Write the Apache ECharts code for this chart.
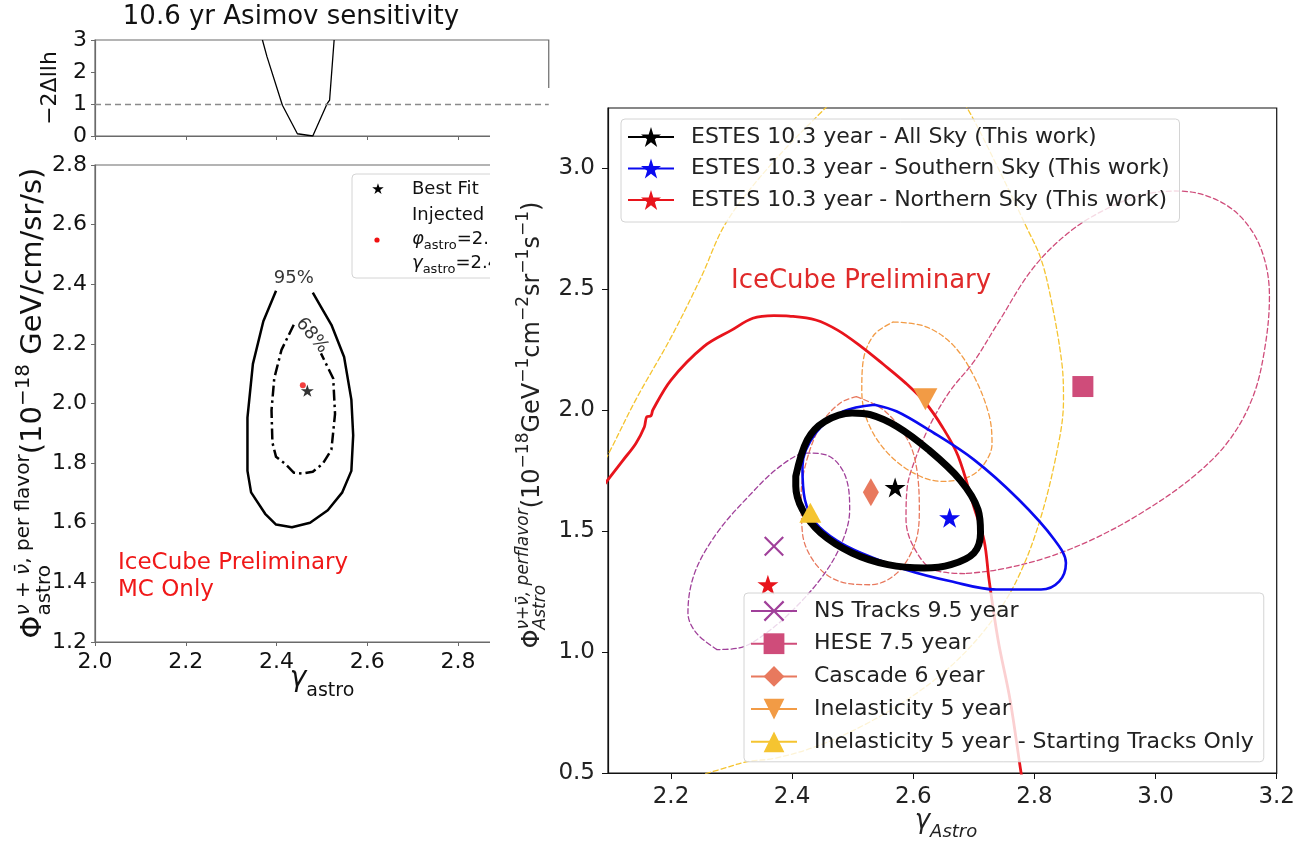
<!DOCTYPE html>
<html>
<head>
<meta charset="utf-8">
<script src="https://cdn.jsdelivr.net/npm/echarts@6/dist/echarts.min.js"></script>
<style>
  html, body { margin: 0; padding: 0; background: #fff; }
  #main { width: 1298px; height: 849px; }
</style>
</head>
<body>
<div id="main"></div>
<script>
// ---------- Left figure: 10.6 yr Asimov sensitivity ----------
const scanGamma = [2.369, 2.379, 2.413, 2.446, 2.480, 2.512, 2.517, 2.527];
const scanTs = [3.0, 2.48, 0.96, 0.07, 0.0, 1.02, 1.12, 3.0];
const tsLevel = 1;

const contour95 = [[2.399,2.378],[2.371,2.276],[2.348,2.133],[2.336,1.953],[2.336,1.774],[2.344,1.702],
  [2.375,1.630],[2.399,1.594],[2.434,1.585],[2.474,1.600],[2.513,1.642],[2.545,1.702],[2.565,1.774],
  [2.569,1.893],[2.565,2.013],[2.549,2.156],[2.521,2.264],[2.498,2.324],[2.480,2.372]];
const contour68 = [[2.438,2.264],[2.411,2.180],[2.395,2.084],[2.389,1.977],[2.391,1.869],[2.399,1.821],
  [2.419,1.798],[2.438,1.768],[2.458,1.765],[2.480,1.771],[2.502,1.798],[2.521,1.845],[2.529,1.965],
  [2.525,2.084],[2.498,2.168]];
const contourLabels = [
  { text: '95%', at: [2.438, 2.419], angle: 0 },
  { text: '68%', at: [2.478, 2.228], angle: -50 }
];
const asimovBestFit = [2.468, 2.043];
const asimovInjected = [2.458, 2.061];
const injectedPhi = '2.06';
const injectedGamma = '2.46';

// ---------- Right figure: measurements comparison ----------
const rightGammaTicks = [2.2, 2.4, 2.6, 2.8, 3.0, 3.2];
const rightPhiTicks = [0.5, 1.0, 1.5, 2.0, 2.5, 3.0];

const estesNames = [
  'ESTES 10.3 year - All Sky (This work)',
  'ESTES 10.3 year - Southern Sky (This work)',
  'ESTES 10.3 year - Northern Sky (This work)'
];
const refNames = [
  'NS Tracks 9.5 year',
  'HESE 7.5 year',
  'Cascade 6 year',
  'Inelasticity 5 year',
  'Inelasticity 5 year - Starting Tracks Only'
];

const allSkyBest = [2.57, 1.68];
const southBest = [2.66, 1.555];
const northBest = [2.36, 1.278];
const nsTracksBest = [2.37, 1.437];
const heseBest = [2.88, 2.097];
const cascadeBest = [2.53, 1.66];
const inelBest = [2.62, 2.044];
const startBest = [2.43, 1.575];

const allSkyContour = [[2.406,1.726],[2.425,1.877],[2.454,1.953],[2.499,1.988],[2.529,1.981],[2.573,1.932],
  [2.625,1.836],[2.677,1.712],[2.707,1.588],[2.711,1.492],[2.700,1.409],[2.662,1.361],[2.618,1.347],
  [2.558,1.361],[2.499,1.409],[2.447,1.492],[2.417,1.588],[2.406,1.685],[2.406,1.726]];
const southContour = [[2.536,2.022],[2.484,1.994],[2.439,1.905],[2.417,1.767],[2.421,1.63],[2.439,1.533],
  [2.474,1.46],[2.514,1.409],[2.588,1.34],[2.662,1.292],[2.737,1.258],[2.811,1.258],[2.841,1.292],
  [2.852,1.368],[2.833,1.464],[2.774,1.63],[2.700,1.795],[2.625,1.919],[2.573,1.994],[2.536,2.022]];
const northContour = [[2.08,1.66],[2.097,1.715],[2.12,1.79],[2.142,1.862],[2.156,1.93],[2.160,1.972],
  [2.167,1.976],[2.170,2.0],[2.2,2.124],[2.254,2.262],[2.30,2.33],[2.335,2.379],[2.37,2.39],[2.395,2.388],
  [2.439,2.372],[2.475,2.33],[2.514,2.262],[2.55,2.19],[2.588,2.11],[2.62,2.03],[2.648,1.93],[2.674,1.81],
  [2.70,1.6],[2.717,1.46],[2.725,1.3],[2.74,1.05],[2.76,0.8],[2.778,0.5],[2.782,0.45]];

const nsTracksContour = [[2.276,1.01],[2.242,1.078],[2.228,1.161],[2.239,1.326],[2.276,1.492],[2.328,1.643],
  [2.38,1.767],[2.425,1.822],[2.462,1.808],[2.488,1.726],[2.495,1.588],[2.484,1.464],[2.454,1.326],
  [2.402,1.175],[2.35,1.065],[2.313,1.017],[2.276,1.01]];
const heseContour = [[2.685,1.324],[2.633,1.34],[2.60,1.437],[2.588,1.55],[2.59,1.68],[2.603,1.795],
  [2.63,1.95],[2.662,2.083],[2.70,2.2],[2.74,2.36],[2.798,2.587],[2.86,2.74],[2.926,2.84],[2.98,2.89],
  [3.034,2.905],[3.09,2.88],[3.14,2.80],[3.175,2.66],[3.188,2.47],[3.18,2.25],[3.16,2.05],[3.12,1.87],
  [3.06,1.72],[2.98,1.58],[2.90,1.47],[2.82,1.39],[2.74,1.34],[2.685,1.324]];
const cascadeContour = [[2.506,2.055],[2.551,2.0],[2.59,1.88],[2.605,1.767],[2.61,1.588],[2.603,1.45],
  [2.573,1.326],[2.529,1.278],[2.48,1.29],[2.44,1.36],[2.417,1.492],[2.415,1.65],[2.425,1.8],[2.45,1.95],
  [2.48,2.03],[2.506,2.055]];
const inelContour = [[2.567,2.364],[2.62,2.345],[2.665,2.27],[2.70,2.14],[2.725,1.98],[2.73,1.86],
  [2.715,1.77],[2.69,1.722],[2.648,1.705],[2.60,1.74],[2.555,1.83],[2.525,1.95],[2.515,2.08],[2.517,2.198],
  [2.535,2.31],[2.567,2.364]];
const startContour = [[2.06,1.65],[2.097,1.82],[2.142,2.043],[2.2,2.3],[2.25,2.55],[2.29,2.77],[2.36,3.0],
  [2.455,3.248],[2.52,3.40],[2.60,3.45],[2.66,3.35],[2.689,3.248],[2.74,3.0],[2.788,2.75],[2.81,2.63],
  [2.826,2.475],[2.845,2.2],[2.848,2.043],[2.841,1.877],[2.811,1.56],[2.774,1.313],[2.73,1.13],[2.67,0.96],
  [2.60,0.82],[2.52,0.70],[2.44,0.61],[2.37,0.56],[2.328,0.548],[2.28,0.514],[2.22,0.47],[2.12,0.40],
  [2.0,0.8],[2.0,1.4],[2.06,1.65]];

// ---------- styling ----------
const FONT = 'DejaVu Sans';
const C = {
  allSky: '#000000', south: '#0a0af0', north: '#e8141c',
  ns: '#a0409a', hese: '#cf4c7a', cascade: '#e8795e', inel: '#f29b45', start: '#f5c430',
  leftAxis: '#6a6a6a', rightAxis: '#111111'
};
const STAR = 'path://M12,0 L14.8,8.6 L24,8.6 L16.6,14 L19.4,22.8 L12,17.4 L4.6,22.8 L7.4,14 L0,8.6 L9.2,8.6 Z';
const CROSS = 'path://M0,1.5 L1.5,0 L10,8.5 L18.5,0 L20,1.5 L11.5,10 L20,18.5 L18.5,20 L10,11.5 L1.5,20 L0,18.5 L8.5,10 Z';

// Text with super/subscripts laid out on a shared baseline
const measureCtx = document.createElement('canvas').getContext('2d');
function textWidth(p) {
  measureCtx.font = (p.italic ? 'italic ' : '') + p.size + 'px "' + FONT + '"';
  return measureCtx.measureText(p.t).width;
}
function mathGroup(parts, opt) {
  let cursor = 0, markStart = 0;
  const placed = [];
  parts.forEach(p => {
    const start = p.stack ? markStart : cursor;
    if (p.mark) markStart = start;
    placed.push({ p, start });
    cursor = Math.max(cursor, start + textWidth(p));
  });
  const shift = opt.anchor === 'center' ? -cursor / 2 : 0;
  return {
    type: 'group', x: opt.x, y: opt.y, rotation: opt.rotation || 0,
    children: placed.map(({ p, start }) => ({
      type: 'text', x: start + shift, y: (p.dy || 0) - 0.35 * p.size, z: opt.z, silent: true,
      style: {
        text: p.t, fontSize: p.size, fontFamily: FONT, fontStyle: p.italic ? 'italic' : 'normal',
        fill: opt.color || '#000', align: 'left', verticalAlign: 'middle'
      }
    }))
  };
}

function contourSeries(name, pts, color, width, dashed, z) {
  return {
    type: 'line', name, xAxisIndex: 2, yAxisIndex: 2, data: pts, symbol: 'none', showSymbol: false,
    smooth: 0.35, silent: true, z,
    lineStyle: { color, width, type: dashed ? [5, 3] : 'solid', cap: 'round', join: 'round' }
  };
}
function markerSeries(name, pt, color, symbol, size, rotate) {
  return {
    type: 'line', name, xAxisIndex: 2, yAxisIndex: 2, data: [pt], symbol, symbolSize: size,
    symbolRotate: rotate || 0, symbolKeepAspect: symbol === STAR, showSymbol: true, silent: true, z: 6,
    itemStyle: { color, opacity: 1 }, lineStyle: { color, width: 2.6 }
  };
}

const leftAxisCommon = {
  axisLine: { show: true, lineStyle: { color: C.leftAxis, width: 1.2 } },
  axisTick: { show: true, length: 4, lineStyle: { color: C.leftAxis, width: 1 } },
  splitLine: { show: false },
  axisLabel: { fontFamily: FONT, fontSize: 22, color: '#111' }
};
const rightAxisCommon = {
  z: 3,
  axisLine: { show: true, onZero: false, lineStyle: { color: C.rightAxis, width: 1.2 } },
  splitLine: { show: false }
};

const chart = echarts.init(document.getElementById('main'), null, { renderer: 'canvas' });

const option = {
  backgroundColor: '#ffffff',
  animation: false,
  grid: [
    { left: 95, top: 40, width: 453.75, height: 96, show: true, borderColor: C.leftAxis, borderWidth: 1.2, z: 0 },
    { left: 95, top: 165, width: 453.75, height: 477, show: true, borderColor: C.leftAxis, borderWidth: 1.2, z: 0 },
    { left: 608, top: 108, width: 670, height: 665, show: true, borderColor: C.rightAxis, borderWidth: 1.2, z: 3 }
  ],
  xAxis: [
    Object.assign({}, leftAxisCommon, { gridIndex: 0, type: 'value', min: 2.0, max: 3.0, interval: 0.2,
      axisLabel: { show: false } }),
    Object.assign({}, leftAxisCommon, { gridIndex: 1, type: 'value', min: 2.0, max: 3.0, interval: 0.2,
      axisLabel: { fontFamily: FONT, fontSize: 22, color: '#111', margin: 9, formatter: v => v.toFixed(1) } }),
    Object.assign({}, rightAxisCommon, { gridIndex: 2, type: 'value', min: 2.096, max: 3.2,
      axisTick: { show: true, length: 6, customValues: rightGammaTicks, lineStyle: { color: C.rightAxis } },
      axisLabel: { customValues: rightGammaTicks, fontFamily: FONT, fontSize: 23, color: '#222', margin: 13,
        formatter: v => v.toFixed(1) } })
  ],
  yAxis: [
    Object.assign({}, leftAxisCommon, { gridIndex: 0, type: 'value', min: 0, max: 3, interval: 1,
      name: '−2Δllh', nameLocation: 'middle', nameGap: 34, nameRotate: 90,
      nameTextStyle: { fontFamily: FONT, fontSize: 22, color: '#111' },
      axisLabel: { fontFamily: FONT, fontSize: 22, color: '#111', margin: 8 } }),
    Object.assign({}, leftAxisCommon, { gridIndex: 1, type: 'value', min: 1.2, max: 2.8, interval: 0.2,
      axisLabel: { fontFamily: FONT, fontSize: 22, color: '#111', margin: 8, formatter: v => v.toFixed(1) } }),
    Object.assign({}, rightAxisCommon, { gridIndex: 2, type: 'value', min: 0.5, max: 3.248,
      axisTick: { show: true, length: 6, customValues: rightPhiTicks, lineStyle: { color: C.rightAxis } },
      axisLabel: { customValues: rightPhiTicks, fontFamily: FONT, fontSize: 23, color: '#222', margin: 13,
        formatter: v => v.toFixed(1) } })
  ],
  legend: [
    {
      data: estesNames, orient: 'vertical', left: 621, top: 119, z: 10, selectedMode: false,
      itemWidth: 46, itemHeight: 25, itemGap: 9.5,
      textStyle: { fontFamily: FONT, fontSize: 22, color: '#222', padding: [0, 0, 0, 12] },
      backgroundColor: 'rgba(255,255,255,0.8)', borderColor: '#d4d4d4', borderWidth: 1, borderRadius: 4,
      padding: [7, 10, 11, 6]
    },
    {
      data: refNames, orient: 'vertical', left: 744, top: 593, z: 10, selectedMode: false,
      itemWidth: 46, itemHeight: 26, itemGap: 10.7,
      textStyle: { fontFamily: FONT, fontSize: 22, color: '#222', padding: [0, 0, 0, 12] },
      backgroundColor: 'rgba(255,255,255,0.8)', borderColor: '#d4d4d4', borderWidth: 1, borderRadius: 4,
      padding: [7, 10, 9, 6]
    }
  ],
  series: [
    // likelihood scan
    {
      type: 'line', xAxisIndex: 0, yAxisIndex: 0, z: 1, silent: true, symbol: 'none',
      data: scanGamma.map((g, i) => [g, scanTs[i]]),
      lineStyle: { color: '#000', width: 1.3 },
      markLine: {
        silent: true, symbol: 'none', label: { show: false },
        lineStyle: { type: [6, 4], color: '#8a8a8a', width: 1.3 },
        data: [{ yAxis: tsLevel }]
      }
    },
    // Asimov contours
    {
      type: 'line', xAxisIndex: 1, yAxisIndex: 1, z: 1, silent: true, symbol: 'none', data: contour95,
      lineStyle: { color: '#000', width: 2.5, join: 'round' }
    },
    {
      type: 'line', xAxisIndex: 1, yAxisIndex: 1, z: 1, silent: true, symbol: 'none', data: contour68,
      lineStyle: { color: '#000', width: 2.5, type: [11, 4, 2.5, 4], join: 'round' }
    },
    {
      type: 'scatter', xAxisIndex: 1, yAxisIndex: 1, z: 1, silent: true, symbolSize: 0,
      data: contourLabels.map(c => ({ name: c.text, value: c.at, label: { rotate: c.angle } })),
      label: { show: true, position: 'inside', formatter: '{b}', fontFamily: FONT, fontSize: 18, color: '#000' }
    },
    {
      type: 'scatter', xAxisIndex: 1, yAxisIndex: 1, z: 1, silent: true, data: [asimovBestFit],
      symbol: STAR, symbolSize: 13, symbolKeepAspect: true, itemStyle: { color: '#000' }
    },
    {
      type: 'scatter', xAxisIndex: 1, yAxisIndex: 1, z: 1, silent: true, data: [asimovInjected],
      symbol: 'circle', symbolSize: 6, itemStyle: { color: '#f01010' }
    },

    // comparison contours
    contourSeries('start-contour', startContour, C.start, 1.3, true, 4),
    contourSeries('hese-contour', heseContour, C.hese, 1.3, true, 4),
    contourSeries('inel-contour', inelContour, C.inel, 1.3, true, 4),
    contourSeries('cascade-contour', cascadeContour, C.cascade, 1.3, true, 4),
    contourSeries('ns-contour', nsTracksContour, C.ns, 1.3, true, 4),
    contourSeries('north-contour', northContour, C.north, 2.8, false, 5),
    contourSeries('south-contour', southContour, C.south, 2.6, false, 5),
    contourSeries('allsky-contour', allSkyContour, C.allSky, 7, false, 5),

    // best-fit points (also drive the legends)
    markerSeries(estesNames[0], allSkyBest, C.allSky, STAR, 21),
    markerSeries(estesNames[1], southBest, C.south, STAR, 21),
    markerSeries(estesNames[2], northBest, C.north, STAR, 21),
    markerSeries(refNames[0], nsTracksBest, C.ns, CROSS, 20),
    markerSeries(refNames[1], heseBest, C.hese, 'rect', 21),
    markerSeries(refNames[2], cascadeBest, C.cascade, 'diamond', [16, 28]),
    markerSeries(refNames[3], inelBest, C.inel, 'triangle', [24, 22], 180),
    markerSeries(refNames[4], startBest, C.start, 'triangle', [22, 20])
  ],
  graphic: {
    elements: [
      // title of the left figure
      { type: 'text', x: 291, y: 17, z: 1, silent: true,
        style: { text: '10.6 yr Asimov sensitivity', fontFamily: FONT, fontSize: 26, fill: '#111',
          align: 'center', verticalAlign: 'middle' } },
      // left legend box
      { type: 'rect', z: 1, silent: true, shape: { x: 352, y: 174, width: 200, height: 104, r: 4 },
        style: { fill: 'rgba(255,255,255,0.8)', stroke: '#d4d4d4', lineWidth: 1 } },
      { type: 'text', x: 378, y: 190, z: 1, silent: true,
        style: { text: '★', fontFamily: FONT, fontSize: 15, fill: '#000', align: 'center', verticalAlign: 'middle' } },
      { type: 'text', x: 412, y: 189, z: 1, silent: true,
        style: { text: 'Best Fit', fontFamily: FONT, fontSize: 18, fill: '#111', align: 'left', verticalAlign: 'middle' } },
      { type: 'text', x: 412, y: 215, z: 1, silent: true,
        style: { text: 'Injected', fontFamily: FONT, fontSize: 18, fill: '#111', align: 'left', verticalAlign: 'middle' } },
      { type: 'circle', z: 1, silent: true, shape: { cx: 377, cy: 240, r: 2.6 }, style: { fill: '#f01010' } },
      mathGroup([{ t: 'φ', size: 18, italic: true }, { t: 'astro', size: 13, dy: 4 }, { t: '=' + injectedPhi, size: 18 }],
        { x: 412, y: 246, z: 1, color: '#111' }),
      mathGroup([{ t: 'γ', size: 18, italic: true }, { t: 'astro', size: 13, dy: 4 }, { t: '=' + injectedGamma, size: 18 }],
        { x: 412, y: 270, z: 1, color: '#111' }),
      // red watermark on the left plot
      { type: 'text', x: 118, y: 550, z: 1, silent: true,
        style: { text: 'IceCube Preliminary\nMC Only', fontFamily: FONT, fontSize: 23, lineHeight: 27,
          fill: '#f01818', align: 'left', verticalAlign: 'top' } },
      // left axis titles
      mathGroup([
        { t: 'Φ', size: 29 },
        { t: 'ν + ν\u0304', size: 20, dy: -13, italic: true, mark: true },
        { t: 'astro', size: 20, dy: 8, stack: true },
        { t: ', per flavor', size: 20, dy: -13 },
        { t: '(10', size: 29 },
        { t: '−18', size: 20, dy: -13 },
        { t: ' GeV/cm/sr/s)', size: 29 }
      ], { x: 44, y: 403, rotation: Math.PI / 2, anchor: 'center', z: 1, color: '#111' }),
      mathGroup([{ t: 'γ', size: 28, italic: true }, { t: 'astro', size: 19, dy: 9 }],
        { x: 322, y: 689, anchor: 'center', z: 1, color: '#111' }),

      // the right figure sits on a white panel over the left one
      { type: 'rect', z: 2, silent: true, shape: { x: 490, y: 88, width: 808, height: 761 }, style: { fill: '#ffffff' } },

      { type: 'text', x: 731, y: 281, z: 7, silent: true,
        style: { text: 'IceCube Preliminary', fontFamily: FONT, fontSize: 26, fill: '#e02a2a',
          align: 'left', verticalAlign: 'middle' } },
      mathGroup([
        { t: 'Φ', size: 24 },
        { t: 'ν+ν\u0304, perflavor', size: 17, dy: -11, italic: true, mark: true },
        { t: 'Astro', size: 17, dy: 6, italic: true, stack: true },
        { t: '(10', size: 24 }, { t: '−18', size: 17, dy: -11 },
        { t: 'GeV', size: 24 }, { t: '−1', size: 17, dy: -11 },
        { t: 'cm', size: 24 }, { t: '−2', size: 17, dy: -11 },
        { t: 'sr', size: 24 }, { t: '−1', size: 17, dy: -11 },
        { t: 's', size: 24 }, { t: '−1', size: 17, dy: -11 },
        { t: ')', size: 24 }
      ], { x: 541, y: 425, rotation: Math.PI / 2, anchor: 'center', z: 7, color: '#222' }),
      mathGroup([{ t: 'γ', size: 26, italic: true }, { t: 'Astro', size: 18, dy: 9, italic: true }],
        { x: 946, y: 830, anchor: 'center', z: 7, color: '#222' })
    ]
  }
};

chart.setOption(option);
</script>
</body>
</html>
